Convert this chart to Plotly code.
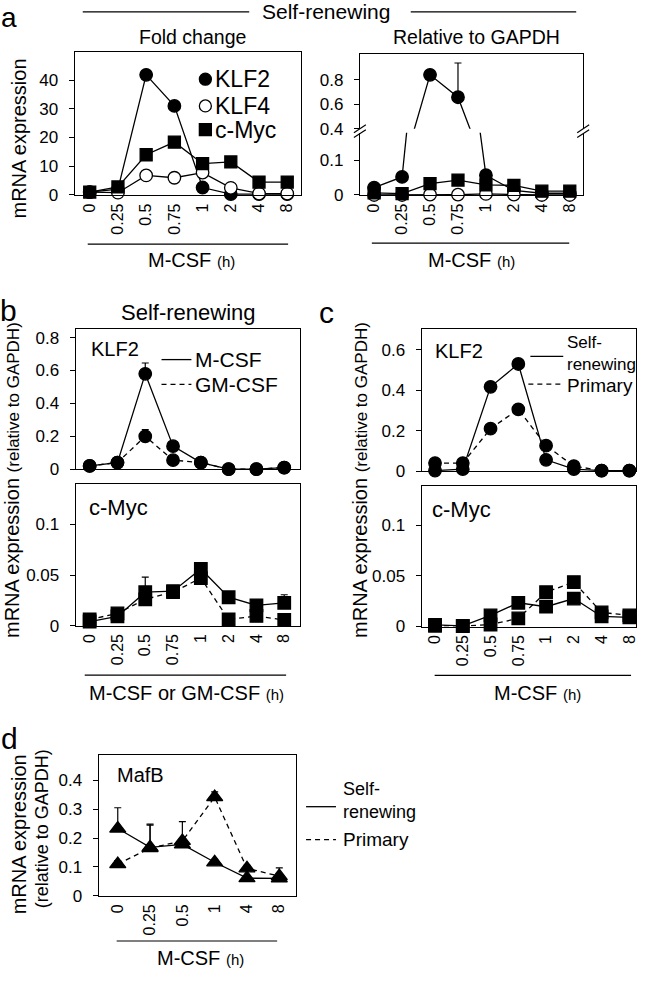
import plotly.graph_objects as go

W, H = 647, 981

# ---------------- data ----------------
time_a = ["0", "0.25", "0.5", "0.75", "1", "2", "4", "8"]
time_d = ["0", "0.25", "0.5", "1", "4", "8"]

# panel a, fold change
fold_klf2 = [1.0, 2.0, 41.8, 31.0, 2.6, 0.3, 0.3, 0.3]
fold_klf4 = [1.0, 0.8, 6.8, 6.0, 7.8, 2.5, 0.5, 0.5]
fold_cmyc = [1.0, 2.8, 14.0, 18.4, 10.9, 11.5, 4.5, 4.5]

# panel a, relative to GAPDH
rel_klf2 = [0.021, 0.052, 0.84, 0.657, 0.057, 0.013, 0.005, 0.005]
rel_klf2_err = [0, 0, 0, 0.28, 0, 0, 0, 0]
rel_klf4 = [0.0, 0.0, 0.001, 0.001, 0.003, 0.001, 0.0, 0.0]
rel_cmyc = [0.006, 0.004, 0.033, 0.043, 0.029, 0.028, 0.011, 0.011]

# panel b (self-renewing, M-CSF vs GM-CSF)
b_klf2_m = [0.02, 0.04, 0.58, 0.14, 0.04, 0.0, 0.0, 0.01]
b_klf2_m_err = [0, 0, 0.066, 0, 0, 0, 0, 0]
b_klf2_gm = [0.02, 0.04, 0.20, 0.055, 0.04, 0.0, 0.0, 0.01]
b_klf2_gm_err = [0, 0, 0.04, 0, 0, 0, 0, 0]
b_cmyc_m = [0.004, 0.009, 0.033, 0.034, 0.056, 0.028, 0.020, 0.0225]
b_cmyc_m_err = [0, 0, 0.015, 0, 0.005, 0, 0, 0.008]
b_cmyc_gm = [0.006, 0.012, 0.026, 0.033, 0.047, 0.006, 0.0095, 0.0055]

# panel c (self-renewing vs primary, M-CSF)
c_klf2_sr = [0.003, 0.01, 0.417, 0.53, 0.056, 0.01, 0.003, 0.003]
c_klf2_sr_err = [0, 0, 0.025, 0.02, 0, 0, 0, 0]
c_klf2_pr = [0.04, 0.04, 0.21, 0.306, 0.126, 0.025, 0.003, 0.003]
c_cmyc_sr = [0.0016, 0.0006, 0.011, 0.0235, 0.0196, 0.0277, 0.010, 0.009]
c_cmyc_pr = [0.0008, 0.0004, 0.002, 0.008, 0.034, 0.044, 0.014, 0.011]

# panel d (MafB)
d_sr = [0.233, 0.168, 0.178, 0.116, 0.061, 0.06]
d_sr_err = [0.072, 0.08, 0.079, 0.01, 0.006, 0.037]
d_pr = [0.11, 0.165, 0.19, 0.342, 0.095, 0.068]
d_pr_err = [0.012, 0.08, 0, 0.018, 0.01, 0]

# ---------------- helpers ----------------
FONT = "Liberation Sans, Arial, sans-serif"


def PX(x):
    return x / W


def PY(y):
    return 1 - y / H


def xdom(a, b):
    return [PX(a), PX(b)]


def ydom(top, bottom):
    return [PY(bottom), PY(top)]


fig = go.Figure()

LW = 1.3
DASH = "5px,4px"


def add(x, y, n, symbol="circle", fill="black", dash="solid", err=None,
        clip=False, size=12.5):
    xa = "x" if n == 1 else f"x{n}"
    ya = "y" if n == 1 else f"y{n}"
    tr = dict(
        x=x, y=y, xaxis=xa, yaxis=ya, mode="lines+markers",
        line=dict(color="black", width=LW, dash=dash),
        marker=dict(symbol=symbol, size=size, color=fill,
                    line=dict(color="black", width=1.3)),
        cliponaxis=clip, showlegend=False, hoverinfo="skip",
    )
    if err is not None:
        tr["error_y"] = dict(type="data", symmetric=False, array=err,
                             arrayminus=[0] * len(err), color="black",
                             thickness=1.2, width=3.5)
    fig.add_trace(go.Scatter(**tr))


# panel a left
add(time_a, fold_klf2, 1)
add(time_a, fold_klf4, 1, fill="white")
add(time_a, fold_cmyc, 1, symbol="square", size=12)
# panel a right (broken axis: top part 2, bottom part 3)
add(time_a, rel_klf2, 2, err=rel_klf2_err, clip=True)
add(time_a, rel_klf4, 2, fill="white", clip=True)
add(time_a, rel_cmyc, 2, symbol="square", size=12, clip=True)
add(time_a, rel_klf2, 3)
add(time_a, rel_klf4, 3, fill="white")
add(time_a, rel_cmyc, 3, symbol="square", size=12)
# panel b
add(time_a, b_klf2_gm, 4, dash=DASH, err=b_klf2_gm_err)
add(time_a, b_klf2_m, 4, err=b_klf2_m_err)
add(time_a, b_cmyc_gm, 5, symbol="square", dash=DASH)
add(time_a, b_cmyc_m, 5, symbol="square", err=b_cmyc_m_err)
# panel c
add(time_a, c_klf2_pr, 6, dash=DASH)
add(time_a, c_klf2_sr, 6, err=c_klf2_sr_err)
add(time_a, c_cmyc_pr, 7, symbol="square", dash=DASH)
add(time_a, c_cmyc_sr, 7, symbol="square")
# panel d
add(time_d, d_pr, 8, symbol="triangle-up", dash=DASH, err=d_pr_err, size=14)
add(time_d, d_sr, 8, symbol="triangle-up", err=d_sr_err, size=14)

# ---------------- axes ----------------
def xaxis(dom, anchor, rng, cats, labels=True, **kw):
    d = dict(domain=dom, anchor=anchor, type="category",
             categoryorder="array", categoryarray=cats, range=rng,
             showline=True, linecolor="black", linewidth=1.2, mirror=True,
             ticks="", showgrid=False, zeroline=False, tickangle=-90,
             showticklabels=labels, ticklabelstandoff=1,
             tickfont=dict(size=16, color="black", family=FONT),
             fixedrange=True)
    d.update(kw)
    return d


def yaxis(dom, anchor, rng, vals, texts, **kw):
    d = dict(domain=dom, anchor=anchor, range=rng, tickvals=vals,
             ticktext=texts, showline=True, linecolor="black",
             linewidth=1.2, mirror=True, ticks="outside", ticklen=5,
             tickwidth=1.2, tickcolor="black", showgrid=False,
             zeroline=False, ticklabelstandoff=7,
             tickfont=dict(size=17, color="black", family=FONT),
             fixedrange=True)
    d.update(kw)
    return d


lay = {}
lay["xaxis"] = xaxis(xdom(75, 302), "y", [-0.53, 7.49], time_a)
lay["yaxis"] = yaxis(ydom(53, 197), "x", [0, 49.6], [0, 10, 20, 30, 40],
                     ["0", "10", "20", "30", "40"])
lay["xaxis2"] = xaxis(xdom(361, 585), "y2", [-0.51, 7.48], time_a,
                      labels=False, side="top", mirror=False)
lay["yaxis2"] = yaxis(ydom(55, 130), "x2", [0.4, 1.007], [0.4, 0.6, 0.8],
                      ["0.4", "0.6", "0.8"])
lay["xaxis3"] = xaxis(xdom(361, 585), "y3", [-0.51, 7.48], time_a,
                      mirror=False)
lay["yaxis3"] = yaxis(ydom(134, 197), "x3", [0, 0.18], [0, 0.1], ["0", "0.1"])
lay["xaxis4"] = xaxis(xdom(76, 301), "y4", [-0.5, 7.57], time_a, labels=False)
lay["yaxis4"] = yaxis(ydom(332, 474), "x4", [0, 0.855],
                      [0, 0.2, 0.4, 0.6, 0.8], ["0", "0.2", "0.4", "0.6", "0.8"])
lay["xaxis5"] = xaxis(xdom(76, 301), "y5", [-0.5, 7.57], time_a)
lay["yaxis5"] = yaxis(ydom(489, 632), "x5", [0, 0.14], [0, 0.05, 0.1],
                      ["0", "0.05", "0.1"])
lay["xaxis6"] = xaxis(xdom(423, 638), "y6", [-0.48, 7.24], time_a, labels=False)
lay["yaxis6"] = yaxis(ydom(332, 476), "x6", [0, 0.705], [0, 0.2, 0.4, 0.6],
                      ["0", "0.2", "0.4", "0.6"])
lay["xaxis7"] = xaxis(xdom(423, 638), "y7", [-0.48, 7.24], time_a)
lay["yaxis7"] = yaxis(ydom(491, 633), "x7", [0, 0.139], [0, 0.05, 0.1],
                      ["0", "0.05", "0.1"])
lay["xaxis8"] = xaxis(xdom(99, 297), "y8", [-0.59, 5.52], time_d)
lay["yaxis8"] = yaxis(ydom(763, 905), "x8", [0, 0.487],
                      [0, 0.1, 0.2, 0.3, 0.4], ["0", "0.1", "0.2", "0.3", "0.4"])

# ---------------- annotations ----------------
ann = []


def text(t, x, y, size=20, xa="center", ya="middle", angle=0, align="center"):
    ann.append(dict(text=t, x=PX(x), y=PY(y), xref="paper", yref="paper",
                    xanchor=xa, yanchor=ya, showarrow=False, textangle=angle,
                    align=align,
                    font=dict(size=size, color="black", family=FONT)))


def small(t, s):
    return f"<span style='font-size:{s}px'>{t}</span>"


# panel letters
text("a", 9, 0, size=28, ya="top")
text("b", 9, 314, size=30)
text("c", 328, 316, size=30)
text("d", 10, 746, size=30)

# headers
text("Self-renewing", 327, 12, size=21)
text("Fold change", 193, 37, size=19.5)
text("Relative to GAPDH", 478, 37, size=19.5)
text("Self-renewing", 189, 316, size=22)

# y titles
text("mRNA expression", 19, 140, size=20, angle=-90)
text("mRNA expression " + small("(relative to GAPDH)", 17), 12, 485,
     size=20, angle=-90)
text("mRNA expression " + small("(relative to GAPDH)", 17), 361, 485,
     size=20, angle=-90)
text("mRNA expression", 19, 843, size=20, angle=-90)
text("(relative to GAPDH)", 43, 837, size=18, angle=-90)

# x titles
text("M-CSF " + small("(h)", 15), 192, 263, size=20)
text("M-CSF " + small("(h)", 15), 473, 263, size=20)
text("M-CSF or GM-CSF " + small("(h)", 15), 187, 700, size=20)
text("M-CSF " + small("(h)", 15), 539, 700, size=20)
text("M-CSF " + small("(h)", 15), 201, 968, size=20)

# gene labels
text("KLF2", 89, 353, size=20, xa="left")
text("c-Myc", 87, 513, size=22, xa="left")
text("KLF2", 434, 355, size=20, xa="left")
text("c-Myc", 431, 515, size=22, xa="left")
text("MafB", 115, 783, size=20, xa="left")

# legends text
text("KLF2", 214, 80, size=23, xa="left")
text("KLF4", 214, 107, size=23, xa="left")
text("c-Myc", 214, 131, size=23, xa="left")
text("M-CSF", 194, 363, size=21, xa="left")
text("GM-CSF", 194, 388, size=21, xa="left")
text("Self-<br>renewing", 567, 357, size=17, xa="left", align="left")
text("Primary", 567, 389, size=19, xa="left")
text("Self-<br>renewing", 342, 809, size=18, xa="left", align="left")
text("Primary", 342, 848, size=19, xa="left")

# ---------------- shapes ----------------
shapes = []


def hline(x0, x1, y, dash="solid", w=1.2):
    shapes.append(dict(type="line", xref="paper", yref="paper",
                       x0=PX(x0), x1=PX(x1), y0=PY(y), y1=PY(y),
                       line=dict(color="black", width=w, dash=dash)))


def seg(x0, y0, x1, y1, w=1.2):
    shapes.append(dict(type="line", xref="paper", yref="paper",
                       x0=PX(x0), x1=PX(x1), y0=PY(y0), y1=PY(y1),
                       line=dict(color="black", width=w)))


# header lines
hline(83, 250, 12)
hline(412, 578, 12)
# x-title underlines
hline(88, 289, 246.7)
hline(373, 571, 245.7)
hline(85, 287, 682)
hline(436, 633, 682.3)
hline(117, 278, 950.7)
# legend lines
hline(162, 192, 363.3, w=1.3)
hline(162, 192, 388.3, dash=DASH, w=1.3)
hline(532, 565, 360, w=1.3)
hline(530, 565, 388, dash=DASH, w=1.3)
hline(307, 337, 815, w=1.3)
hline(307, 337, 848.3, dash=DASH, w=1.3)
# axis-break marks
for bx in (361, 585):
    seg(bx - 6, 134, bx + 6, 126)
    seg(bx - 6, 139, bx + 6, 131)


# legend symbols panel a
def sym(kind, x, y, fill):
    shapes.append(dict(type=kind, xref="paper", yref="paper",
                       xsizemode="pixel", ysizemode="pixel",
                       xanchor=PX(x), yanchor=PY(y),
                       x0=-6, x1=6, y0=-6, y1=6, fillcolor=fill,
                       line=dict(color="black", width=1.3)))


sym("circle", 206, 80, "black")
sym("circle", 206, 107, "white")
sym("rect", 206, 131, "black")

fig.update_layout(
    width=W, height=H, autosize=False,
    margin=dict(l=0, r=0, t=0, b=0),
    paper_bgcolor="white", plot_bgcolor="white",
    font=dict(family=FONT, color="black"),
    showlegend=False, annotations=ann, shapes=shapes, **lay,
)

fig.write_html(
    "out.html",
    config={"displayModeBar": False},
    post_script="document.body.style.margin='0';"
                "document.body.style.overflow='hidden';",
)
